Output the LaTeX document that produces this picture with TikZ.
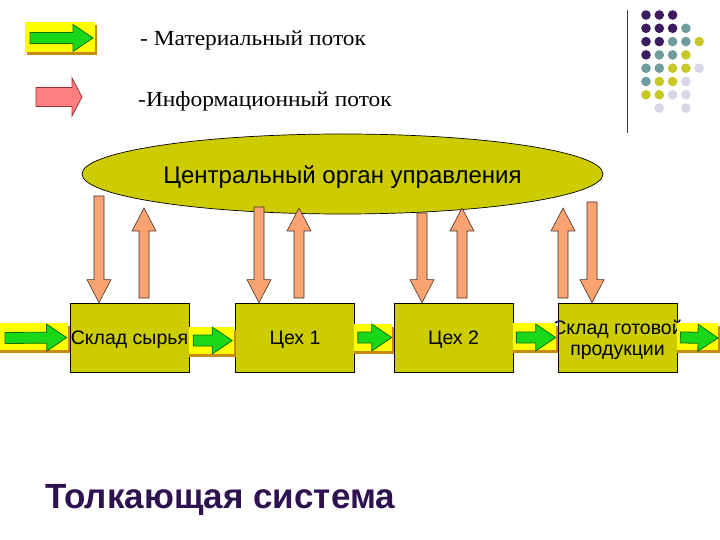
\documentclass[tikz,border=0pt]{standalone}
\usepackage{fontspec}
\setmainfont{Liberation Serif}
\setsansfont{Liberation Sans}
\usetikzlibrary{calc,shapes.geometric}

\definecolor{unitfill}{HTML}{CCCC00}
\definecolor{infofill}{HTML}{F9A272}
\definecolor{infoline}{HTML}{4A3020}
\definecolor{legendpink}{HTML}{FF8080}
\definecolor{legendline}{HTML}{A03030}
\definecolor{bandyellow}{HTML}{FFFF00}
\definecolor{bandbrown}{HTML}{C88A10}
\definecolor{flowgreen}{HTML}{18D818}
\definecolor{flowline}{HTML}{107010}
\definecolor{titlecol}{HTML}{2E1250}
\definecolor{dotP}{HTML}{3C1C5E}
\definecolor{dotT}{HTML}{6E9C9C}
\definecolor{dotY}{HTML}{C8C828}
\definecolor{dotL}{HTML}{D6D6E6}

\begin{document}
\begin{tikzpicture}[x=1pt, y=-1pt,
	blockarr/.style n args={3}{to path={let \p1=(\tikztostart), \p2=(\tikztotarget), \p3=($(\p2)!#3!(\p1)$) in
		-- ($(\p1)!#1!90:(\p2)$) -- ($(\p3)!#1!90:(\p2)$) -- ($(\p3)!#2!90:(\p2)$) -- (\p2)
		-- ($(\p3)!#2!-90:(\p2)$) -- ($(\p3)!#1!-90:(\p2)$) -- ($(\p1)!#1!-90:(\p2)$) -- cycle}},
	info/.style={blockarr={5pt}{12pt}{23pt}, draw=infoline, fill=infofill, line width=0.6pt},
	flow/.style={blockarr={5.5pt}{13.5pt}{20pt}, draw=flowline, fill=flowgreen, line width=0.8pt},
	unitbox/.style={rectangle, draw=black, fill=unitfill, line width=0.7pt, minimum width=119pt, minimum height=69pt, inner sep=0pt, text depth=0pt, font=\sffamily\fontsize{19.5}{21}\selectfont},
	legendtext/.style={anchor=base west, inner sep=0pt, font=\fontsize{21.5}{24}\selectfont\addfontfeature{FakeStretch=1.09}}]

	\useasboundingbox (0,0) rectangle (720,540);
	\fill[white] (0,0) rectangle (720,540);

	% legend
	\fill[bandbrown] (27,25) rectangle (97,55);
	\fill[bandyellow] (25,22) rectangle (95,52);
	\coordinate (lg1) at (30,38);
	\coordinate (lg2) at (93,38);
	\draw[flow] (lg1) to (lg2);
	\node[legendtext] (lgtext1) at (140,46) {- Материальный поток};
	\coordinate (li1) at (36,97);
	\coordinate (li2) at (82,97);
	\draw[blockarr={9.5pt}{19pt}{10pt}, draw=legendline, fill=legendpink, line width=0.8pt] (li1) to (li2);
	\node[legendtext] (lgtext2) at (138,107) {-Информационный поток};

	% corner decoration
	\draw[line width=1pt, black!75] (627,10) -- (627,133);
	\foreach \c/\r/\col in {0/0/dotP, 1/0/dotP, 2/0/dotP,
		0/1/dotP, 1/1/dotP, 2/1/dotP, 3/1/dotT,
		0/2/dotP, 1/2/dotP, 2/2/dotT, 3/2/dotT, 4/2/dotY,
		0/3/dotP, 1/3/dotT, 2/3/dotT, 3/3/dotY,
		0/4/dotT, 1/4/dotT, 2/4/dotY, 3/4/dotY, 4/4/dotL,
		0/5/dotT, 1/5/dotY, 2/5/dotY, 3/5/dotL,
		0/6/dotY, 1/6/dotY, 2/6/dotL, 3/6/dotL,
		1/7/dotL, 3/7/dotL}
		\fill[\col] ({646+13.3*\c},{15+13.3*\r}) circle (4.8pt);

	% control body
	\node[ellipse, draw=black, fill=unitfill, line width=0.7pt, minimum width=521pt, minimum height=80pt, inner sep=0pt, text height=20pt, text depth=0pt, font=\sffamily\fontsize{24}{26}\selectfont] (control) at (342.5,174) {Центральный орган управления};

	% units
	\node[unitbox] (raw) at (129.5,337.5) {Склад сырья};
	\node[unitbox] (shop1) at (295,337.5) {Цех 1};
	\node[unitbox] (shop2) at (453.5,337.5) {Цех 2};
	\node[unitbox, align=center, inner xsep=-10pt] (store) at (617.5,337.5) {Склад готовой\\продукции};

	% material flow
	\foreach \xa/\xb/\ya in {0/70/323, 189/236/327, 354/394/324, 513/558/323, 677/720/323}{
		\fill[bandbrown] (\xa,\ya+3) rectangle (\xb,\ya+30);
		\fill[bandyellow] (\xa,\ya) rectangle (\xb-2,\ya+27);
	}
	\coordinate (f0a) at (5,338);
	\coordinate (f0b) at ([xshift=-3pt]raw.west);
	\coordinate (f1a) at ([xshift=4pt, yshift=-3pt]raw.east);
	\coordinate (f1b) at ([xshift=-3pt, yshift=-3pt]shop1.west);
	\coordinate (f2a) at ([xshift=3pt]shop1.east);
	\coordinate (f2b) at ([xshift=-2pt]shop2.west);
	\coordinate (f3a) at ([xshift=3pt]shop2.east);
	\coordinate (f3b) at ([xshift=-2pt]store.west);
	\coordinate (f4a) at ([xshift=3pt]store.east);
	\coordinate (f4b) at (718,338);
	\draw[flow] (f0a) to (f0b);
	\draw[flow] (f1a) to (f1b);
	\draw[flow] (f2a) to (f2b);
	\draw[flow] (f3a) to (f3b);
	\draw[flow] (f4a) to (f4b);

	% information flow
	\coordinate (d1a) at (99,196);
	\coordinate (d1b) at (raw.north -| d1a);
	\coordinate (u1a) at (144,298);
	\coordinate (u1b) at (144,208);
	\coordinate (d2a) at (259,207);
	\coordinate (d2b) at (shop1.north -| d2a);
	\coordinate (u2a) at (299,298);
	\coordinate (u2b) at (299,208);
	\coordinate (d3a) at (422,213);
	\coordinate (d3b) at (shop2.north -| d3a);
	\coordinate (u3a) at (462,298);
	\coordinate (u3b) at (462,208);
	\coordinate (u4a) at (563,298);
	\coordinate (u4b) at (563,208);
	\coordinate (d4a) at (592,202);
	\coordinate (d4b) at (store.north -| d4a);
	\draw[info] (d1a) to (d1b);
	\draw[info] (u1a) to (u1b);
	\draw[info] (d2a) to (d2b);
	\draw[info] (u2a) to (u2b);
	\draw[info] (d3a) to (d3b);
	\draw[info] (u3a) to (u3b);
	\draw[info] (u4a) to (u4b);
	\draw[info] (d4a) to (d4b);

	\node[anchor=base west, inner sep=0pt, text=titlecol, font=\sffamily\bfseries\fontsize{35}{40}\selectfont] (title) at (45,508) {Толкающая система};
\end{tikzpicture}
\end{document}
